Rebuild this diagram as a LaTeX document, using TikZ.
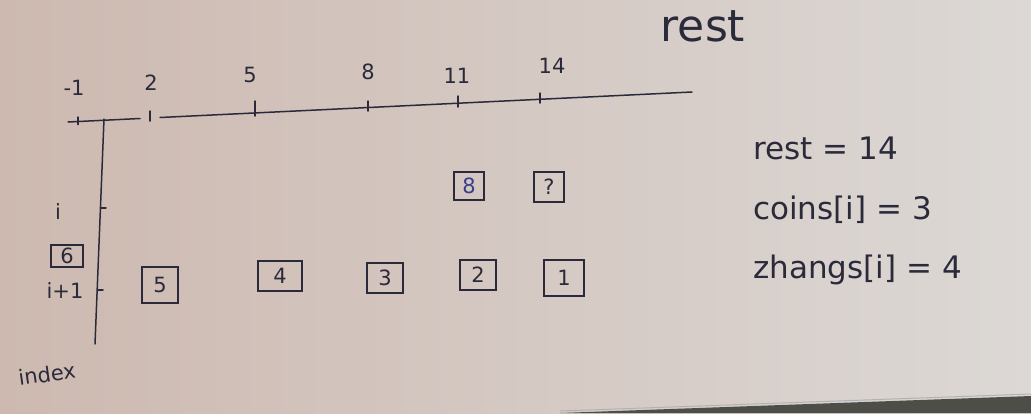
\documentclass[tikz,border=0pt]{standalone}
\usepackage{fontspec}
\setmainfont{DejaVu Sans}
\definecolor{ink}{HTML}{2B2A3A}
\definecolor{blueink}{HTML}{3A3F8A}
\definecolor{boardL}{HTML}{CDB9B0}
\definecolor{boardR}{HTML}{DCD8D5}
\definecolor{edge}{HTML}{4E4E48}
\tikzset{
  pen/.style={draw=ink, line width=1.5pt, line cap=round},
  lbl/.style={text=ink, font=\fontsize{21}{21}\selectfont, inner sep=1pt},
  big/.style={text=ink, font=\fontsize{31}{31}\selectfont, inner sep=1pt},
  huge/.style={text=ink, font=\fontsize{44}{44}\selectfont, inner sep=1pt},
  cell/.style={draw=ink, line width=1.5pt, text=ink, font=\fontsize{21}{21}\selectfont,
    minimum width=36pt, minimum height=30pt, inner sep=1pt},
}
\begin{document}
\begin{tikzpicture}[x=1pt,y=-1pt]
\useasboundingbox (0,0) rectangle (1031,413);
\shade[left color=boardL, right color=boardR] (0,0) rectangle (1031,413);
\fill[edge] (560,413) -- (1031,396) -- (1031,413) -- cycle;
\draw[gray!60, line width=1pt] (560,411) -- (1031,394);

% horizontal axis
\coordinate (hA) at (68,122);
\coordinate (hB) at (140,118.5);
\coordinate (hC) at (160,117.5);
\coordinate (hD) at (692,92);
\draw[pen] (hA) -- (hB);
\draw[pen] (hC) -- (hD);

% ticks
\foreach \n/\x/\y/\yb in {m1/78/120.5/117, t2/150/117/111, t5/255/112/101, t8/368/107/101, t11/458/103/96, t14/540/99/93}{
  \coordinate (\n a) at (\x,\yb);
  \coordinate (\n b) at (\x,\y+4);
  \draw[pen] (\n a) -- (\n b);
}

% tick labels
\node[lbl] (lm1) at (74,88) {-1};
\node[lbl] (l2) at (151,83) {2};
\node[lbl] (l5) at (250,75) {5};
\node[lbl] (l8) at (368,72) {8};
\node[lbl] (l11) at (457,76) {11};
\node[lbl] (l14) at (552,66) {14};
\node[huge] (rest) at (703,26) {rest};

% vertical axis
\coordinate (vA) at (104,119);
\coordinate (vB) at (95,344);
\draw[pen] (vA) -- (vB);
\coordinate (ti) at (101,208);
\coordinate (tj) at (98,290);
\draw[pen] (ti) -- ++(5,0);
\draw[pen] (tj) -- ++(5,0);

% row labels
\node[lbl] (ri) at (58,212) {i};
\node[cell, minimum width=32pt, minimum height=22pt] (c6) at (67,256) {6};
\node[lbl] (rip) at (65,291) {i+1};
\node[lbl, rotate=8] (index) at (47,374) {index};

% row i+1 cells
\node[cell, minimum height=36pt] (c5) at (160,285) {5};
\node[cell, minimum width=44pt] (c4) at (280,276) {4};
\node[cell] (c3) at (385,278) {3};
\node[cell] (c2) at (478,275) {2};
\node[cell, minimum width=40pt, minimum height=36pt] (c1) at (564,278) {1};

% row i cells
\node[cell, minimum width=30pt, minimum height=28pt, text=blueink] (c8) at (469,186) {8};
\node[cell, minimum width=30pt, minimum height=30pt] (cq) at (549,187) {?};

% notes
\node[big, anchor=west] (n1) at (752,148) {rest = 14};
\node[big, anchor=west] (n2) at (752,210) {coins[i] = 3};
\node[big, anchor=west] (n3) at (752,270) {zhangs[i] = 4};
\end{tikzpicture}
\end{document}
